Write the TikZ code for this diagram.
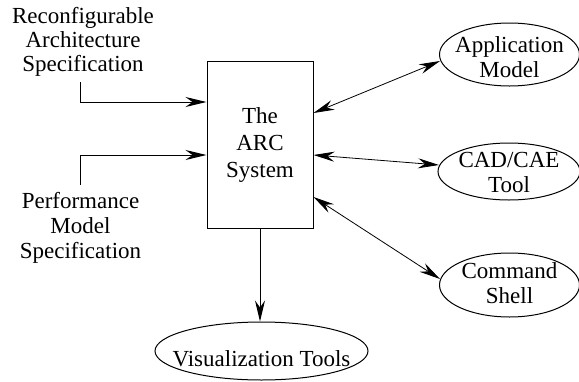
\documentclass[tikz,border=0pt]{standalone}
\usepackage{fontspec}
\setmainfont{Liberation Serif}
\usetikzlibrary{shapes.geometric,arrows.meta}
\begin{document}
\begin{tikzpicture}[x=1pt,y=-1pt,
  line width=1pt,
  tip/.tip={Stealth[length=21pt,width=10pt,inset=7pt]},
  conn/.style={-tip},
  bconn/.style={tip-tip,line width=0.8pt},
  ell/.style={draw,ellipse,inner sep=0pt},
  txt/.style={align=center,inner sep=0pt,font=\fontsize{23}{25}\selectfont},
  sysbox/.style={draw,rectangle,minimum width=106pt,minimum height=167pt,inner sep=0pt}]
\useasboundingbox (0,0) rectangle (579,381);
\node[sysbox] (sys) at (260,144.5) {};
\node[txt,font=\fontsize{23}{27}\selectfont] (syst) at (sys) {The\\ARC\\System};
\node[txt,font=\fontsize{23}{24}\selectfont] (rec) at (83,42) {Reconfigurable\\Architecture\\Specification};
\node[txt] (perf) at (80.5,228) {Performance\\Model\\Specification};
\node[ell,minimum width=140pt,minimum height=63pt] (app) at (509.5,54.5) {};
\node[txt] (appt) at (509.5,57) {Application\\Model};
\node[ell,minimum width=142pt,minimum height=57pt] (cad) at (509,171.5) {};
\node[txt] (cadt) at (509,172) {CAD/CAE\\Tool};
\node[ell,minimum width=140pt,minimum height=64pt] (cmd) at (509.5,285) {};
\node[txt] (cmdt) at (509.5,283) {Command\\Shell};
\node[ell,minimum width=213pt,minimum height=58pt] (vis) at (261.5,351) {};
\node[txt] (vist) at (261.5,359) {Visualization Tools};
% anchor coordinates
\coordinate (r0) at (80,82);
\coordinate (p0) at (80,185);
\coordinate (s1) at (sys.west |- 0,102);
\coordinate (s2) at (sys.west |- 0,155);
\coordinate (e1) at (sys.east |- 0,113);
\coordinate (e2) at (sys.east |- 0,155);
\coordinate (e3) at (sys.east |- 0,197);
\coordinate (a1) at (440,61);
\coordinate (c1) at (439,165);
\coordinate (m1) at (440,279);
\draw[conn] (r0) |- (s1);
\draw[conn] (p0) |- (s2);
\draw[conn] (sys.south) -- (sys.south |- vis.north);
\draw[bconn] (e1) -- (a1);
\draw[bconn] (e2) -- (c1);
\draw[bconn] (e3) -- (m1);
\end{tikzpicture}
\end{document}
